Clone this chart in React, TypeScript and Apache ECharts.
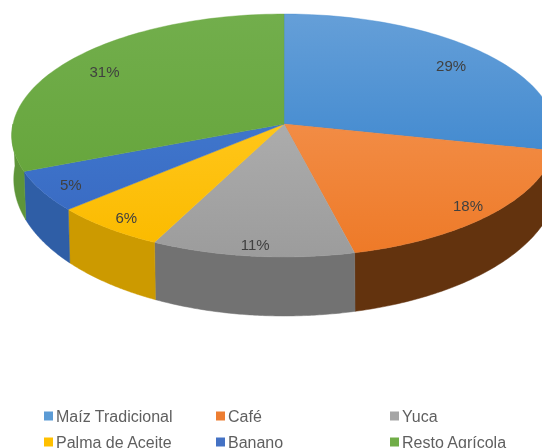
import React, { useEffect, useRef } from "react";
import * as echarts from "echarts";

const categories = ["Maíz Tradicional", "Café", "Yuca", "Palma de Aceite", "Banano", "Resto Agrícola"];
const shares = [28.5, 17.7, 11.0, 6.2, 5.4, 31.2];
const legendIcons = ["#5B9BD5", "#ED7D31", "#A5A5A5", "#FFC000", "#4472C4", "#70AD47"];
const topLight = ["#659FD8", "#F28C45", "#ACACAC", "#FFC61A", "#3F76CC", "#72AE4C"];
const topDark = ["#448BD0", "#EE7A28", "#9C9C9C", "#FBBB00", "#3A6CC4", "#67A63D"];
const sideColors = ["#3A6E9F", "#63330E", "#727272", "#CC9A00", "#2F5EA6", "#5E9539"];

const CX = 284, CY = 124, RX = 271, RY = 120.4, K = 0.0946;
const total = shares.reduce((a, b) => a + b, 0);
const rad = (s: number) => (s / total) * Math.PI * 2;

function project(x: number, y: number) {
  const d = 1 + K * y;
  return [CX + (RX * x) / d, CY - (RY * y) / d];
}
function rim(a: number) {
  return project(Math.sin(a), Math.cos(a));
}
function rimBottom(a: number) {
  const p = rim(a);
  const y = Math.cos(a);
  return [p[0] + Math.abs(Math.sin(a)) * (y < 0 ? 2 : 0), p[1] + 42 + 17 * Math.abs(y)];
}

function renderSlice(index: number, start: number) {
  return (_params: any, api: any) => {
    const value = api.value(0);
    const a0 = rad(start);
    const a1 = rad(start + value);
    const steps = 80;
    const top: number[][] = [[CX, CY]];
    for (let i = 0; i <= steps; i++) top.push(rim(a0 + ((a1 - a0) * i) / steps));
    const children: any[] = [];
    const s0 = Math.max(a0, Math.PI / 2);
    const s1 = Math.min(a1, (Math.PI * 3) / 2);
    if (s1 > s0) {
      const upper: number[][] = [];
      const lower: number[][] = [];
      for (let i = 0; i <= steps; i++) {
        const a = s0 + ((s1 - s0) * i) / steps;
        upper.push(rim(a));
        lower.push(rimBottom(a));
      }
      children.push({
        type: "polygon",
        shape: { points: upper.concat(lower.reverse()) },
        style: { fill: sideColors[index], stroke: sideColors[index], lineWidth: 0.5 },
      });
    }
    children.push({
      type: "polygon",
      shape: { points: top },
      style: {
        fill: new echarts.graphic.LinearGradient(0, 0, 0, 1, [
          { offset: 0, color: topLight[index] },
          { offset: 1, color: topDark[index] },
        ]),
        stroke: topDark[index],
        lineWidth: 0.4,
      },
    });
    const mid = (a0 + a1) / 2;
    const my = Math.cos(mid);
    const r = 0.86 - 0.05 * my;
    const lp = project(r * Math.sin(mid), r * my);
    children.push({
      type: "text",
      z2: 10,
      style: {
        text: `${Math.round(value)}%`,
        x: lp[0],
        y: lp[1] + 1,
        textAlign: "center",
        textVerticalAlign: "middle",
        font: "15px 'Liberation Sans', Arial, sans-serif",
        fill: "#404040",
      },
    });
    return { type: "group", children };
  };
}

function buildSeries() {
  let acc = 0;
  return categories.map((name, i) => {
    const start = acc;
    acc += shares[i];
    return {
      type: "custom",
      name,
      coordinateSystem: "none",
      data: [[shares[i]]],
      itemStyle: { color: legendIcons[i] },
      renderItem: renderSlice(i, start),
      silent: true,
    };
  });
}

const legendColumns = [
  { left: 44, data: [categories[0], categories[3]] },
  { left: 216, data: [categories[1], categories[4]] },
  { left: 390, data: [categories[2], categories[5]] },
];

export default function App() {
  const ref = useRef<HTMLDivElement>(null);
  useEffect(() => {
    const chart = echarts.init(ref.current!, undefined, { renderer: "svg", width: 542, height: 448 });
    chart.setOption({
      animation: false,
      backgroundColor: "#ffffff",
      legend: legendColumns.map((c) => ({
        left: c.left,
        top: 408,
        height: 60,
        orient: "vertical",
        data: c.data,
        icon: "rect",
        itemWidth: 9,
        itemHeight: 9,
        itemGap: 10,
        padding: 0,
        selectedMode: false,
        textStyle: { color: "#5F5F5F", fontSize: 16, fontFamily: "'Liberation Sans', Arial, sans-serif", padding: [0, 0, 0, -2] },
      })),
      series: buildSeries(),
    });
    return () => chart.dispose();
  }, []);
  return (
    <div
      ref={ref}
      style={{ position: "fixed", left: 0, top: 0, width: 542, height: 448, filter: "blur(0.5px)" }}
    />
  );
}
